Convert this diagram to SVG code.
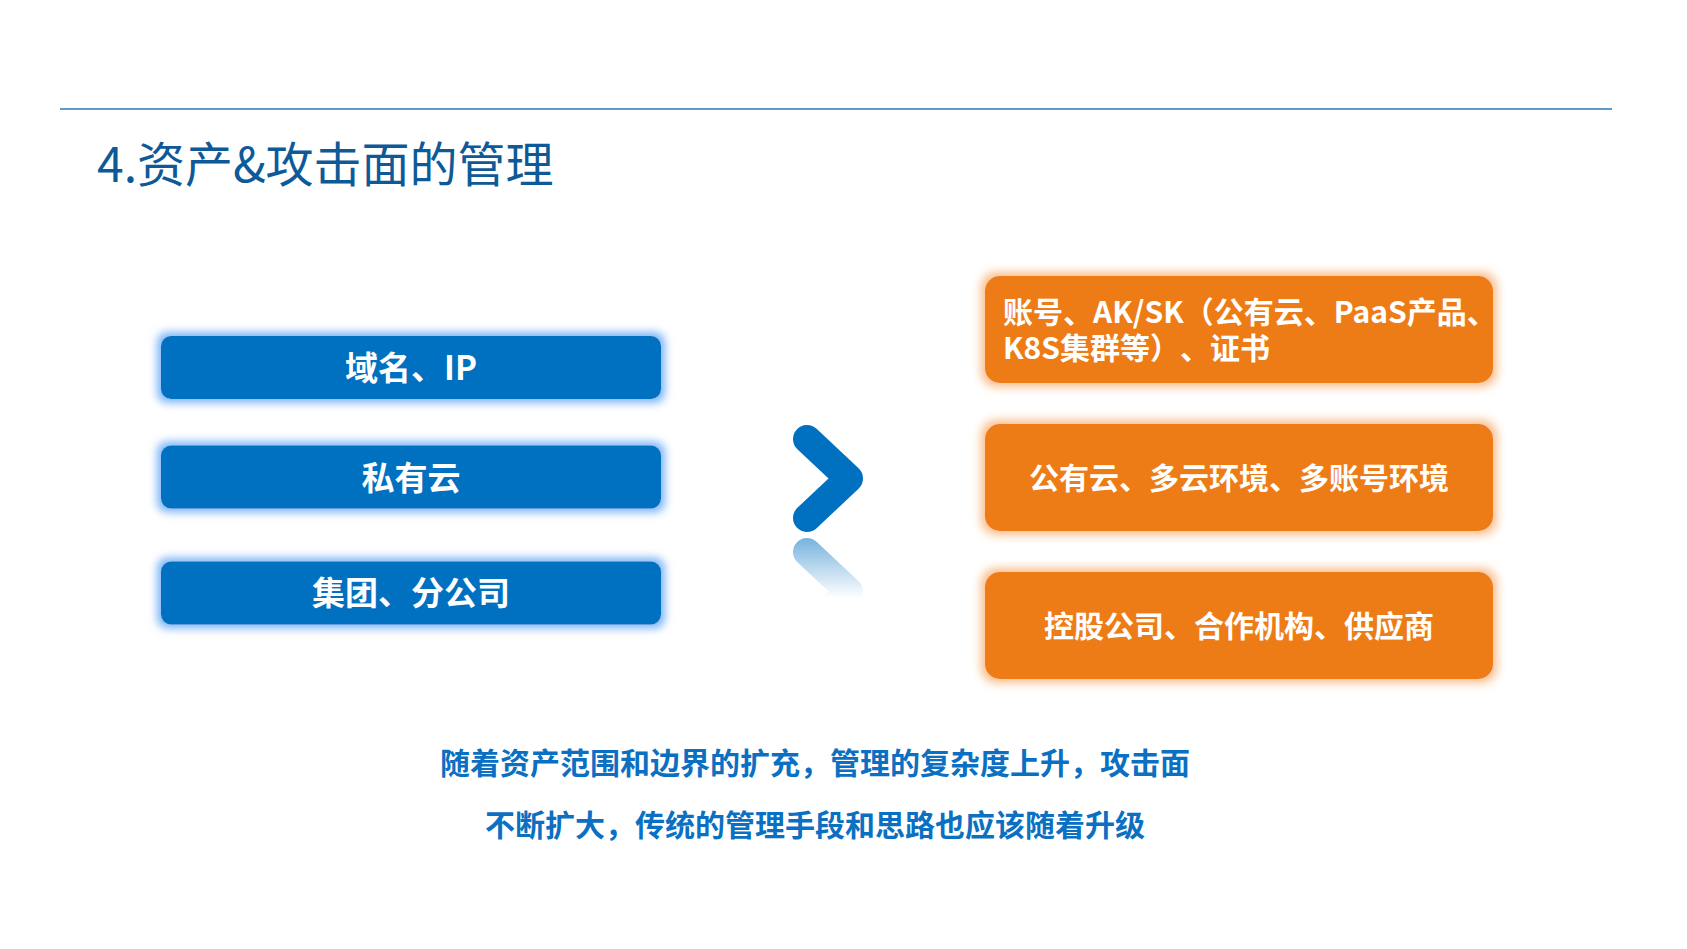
<svg xmlns="http://www.w3.org/2000/svg" width="1687" height="949" viewBox="0 0 1687 949">
  <defs>
    <style>
      .cjk { font-family: 'Noto Sans CJK SC', 'Noto Sans', sans-serif; }
      .lbl { font-family: 'Noto Sans CJK SC', 'Noto Sans', sans-serif; font-weight: 700; fill: #FFFFFF; text-spacing-trim: space-all; }
      .blue { fill: #0070C0; }
      .orange { fill: #EE7B13; }
      .note { font-family: 'Noto Sans CJK SC', 'Noto Sans', sans-serif; font-weight: 700; font-size: 30px; fill: #0B6FC2; }
    </style>
    <filter id="glowB" x="-10%" y="-50%" width="120%" height="200%">
      <feMorphology in="SourceAlpha" operator="dilate" radius="4" result="d"/>
      <feGaussianBlur in="d" stdDeviation="4" result="b"/>
      <feFlood flood-color="#7DB6F7"/>
      <feComposite in2="b" operator="in" result="g"/>
      <feMerge><feMergeNode in="g"/><feMergeNode in="SourceGraphic"/></feMerge>
    </filter>
    <filter id="glowO" x="-10%" y="-40%" width="120%" height="180%">
      <feMorphology in="SourceAlpha" operator="dilate" radius="4" result="d"/>
      <feGaussianBlur in="d" stdDeviation="5" result="b"/>
      <feFlood flood-color="#F9BE8C"/>
      <feComposite in2="b" operator="in" result="g"/>
      <feMerge><feMergeNode in="g"/><feMergeNode in="SourceGraphic"/></feMerge>
    </filter>
    <linearGradient id="fade" gradientUnits="userSpaceOnUse" x1="0" y1="536" x2="0" y2="598">
      <stop offset="0" stop-color="#fff" stop-opacity="0.55"/>
      <stop offset="1" stop-color="#fff" stop-opacity="0"/>
    </linearGradient>
    <mask id="reflMask" maskUnits="userSpaceOnUse" x="770" y="534" width="120" height="70">
      <rect x="770" y="534" width="120" height="70" fill="url(#fade)"/>
    </mask>
  </defs>

  <rect x="0" y="0" width="1687" height="949" fill="#FFFFFF"/>

  <g id="header">
    <line x1="60" y1="109" x2="1612" y2="109" stroke="#2E75B6" stroke-width="1.5"/>
    <text class="cjk" x="97" y="182" font-size="48" fill="#0E5A98">4.资产&amp;攻击面的管理</text>
  </g>

  <g id="node-domain">
    <rect class="blue" x="161" y="336" width="500" height="63" rx="10" filter="url(#glowB)"/>
    <text class="lbl" x="411" y="380" font-size="33" text-anchor="middle">域名、IP</text>
  </g>
  <g id="node-private-cloud">
    <rect class="blue" x="161" y="445.5" width="500" height="63" rx="10" filter="url(#glowB)"/>
    <text class="lbl" x="411" y="489.5" font-size="33" text-anchor="middle">私有云</text>
  </g>
  <g id="node-group">
    <rect class="blue" x="161" y="561.5" width="500" height="63" rx="10" filter="url(#glowB)"/>
    <text class="lbl" x="411" y="605" font-size="33" text-anchor="middle">集团、分公司</text>
  </g>

  <g id="node-accounts">
    <rect class="orange" x="985" y="276" width="508" height="107" rx="15" filter="url(#glowO)"/>
    <text class="lbl" font-size="30"><tspan x="1003" y="322.5">账号、AK/SK（公有云、PaaS产品、</tspan><tspan x="1003" y="359">K8S集群等）、证书</tspan></text>
  </g>
  <g id="node-public-cloud">
    <rect class="orange" x="985" y="424" width="508" height="107" rx="15" filter="url(#glowO)"/>
    <text class="lbl" x="1239" y="488.5" font-size="30" text-anchor="middle">公有云、多云环境、多账号环境</text>
  </g>
  <g id="node-holding">
    <rect class="orange" x="985" y="572" width="508" height="107" rx="15" filter="url(#glowO)"/>
    <text class="lbl" x="1239" y="636.5" font-size="30" text-anchor="middle">控股公司、合作机构、供应商</text>
  </g>

  <g id="connectors">
    <path d="M807,439 L849,478.5 L807,518" fill="none" stroke="#0070C0" stroke-width="28" stroke-linecap="round" stroke-linejoin="round"/>
    <g mask="url(#reflMask)">
      <path d="M807,439 L849,478.5 L807,518" fill="none" stroke="#0070C0" stroke-width="28" stroke-linecap="round" stroke-linejoin="round" transform="translate(0,1070) scale(1,-1)"/>
    </g>
  </g>

  <g id="summary">
    <text class="note" x="815" y="773.5" text-anchor="middle">随着资产范围和边界的扩充，管理的复杂度上升，攻击面</text>
    <text class="note" x="815" y="835.5" text-anchor="middle">不断扩大，传统的管理手段和思路也应该随着升级</text>
  </g>
</svg>
